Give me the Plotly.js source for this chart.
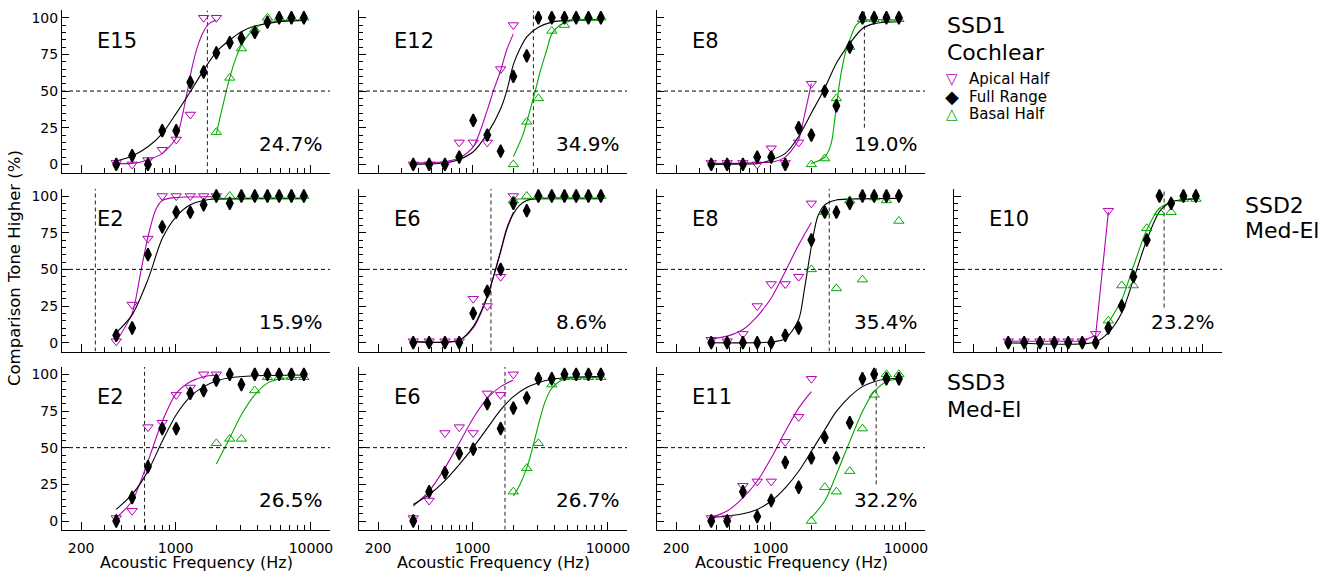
<!DOCTYPE html>
<html><head><meta charset="utf-8">
<script src="https://cdn.plot.ly/plotly-3.0.1.min.js"></script>
<style>html,body{margin:0;padding:0;background:#fff}#chart{width:1331px;height:573px}</style>
</head><body><div id="chart"></div>
<script>
// ---------------- DATA ----------------
const FREQ_HZ = [364, 477, 624, 796, 1010, 1283, 1611, 2000, 2512, 3062, 3846, 4772, 5823, 7178, 8872];
const X_TICKS = [200, 1000, 10000];
const X_TICK_TEXT = ['200', '1000', '10000'];
const X_MINOR = [300, 400, 500, 600, 700, 800, 900, 2000, 3000, 4000, 5000, 6000, 7000, 8000, 9000];
const Y_TICKS = [0, 25, 50, 75, 100];
const Y_MINOR = [5, 10, 15, 20, 30, 35, 40, 45, 55, 60, 65, 70, 80, 85, 90, 95];

const PANEL_NAMES = ['E15', 'E12', 'E8', 'E2', 'E6', 'E8', 'E10', 'E2', 'E6', 'E11'];
const PANEL_PCTS = ['24.7%', '34.9%', '19.0%', '15.9%', '8.6%', '35.4%', '23.2%', '26.5%', '26.7%', '32.2%'];
const VLINE_HZ = [1717, 2812, 4932, 255, 1366, 2711, 5166, 589, 1734, 6026];
const VLINE_LOW = [-6, -6, 25, -6, -6, -6, 24, -6, -6, 25];
const GROUP_LABELS = [['SSD1', 'Cochlear'], ['SSD2', 'Med-El'], ['SSD3', 'Med-El']];
const SERIES_NAMES = ['Apical Half', 'Full Range', 'Basal Half'];
const SERIES_GLYPHS = ['\u25BD', '\u25C6', '\u25B3'];

const N = null;
// points (aligned with FREQ_HZ)
const FULL = [
  [0, 6, 0, 23, 23, 56, 63, 76, 83, 86, 90, 97, 100, 100, 100],
  [0, 0, 0, 5, 30, 20, 9, 60, 74, 100, 100, 100, 100, 100, 100],
  [0, 0, 0, 5, 5, 0, 25, 20, 50, 40, 80, 100, 100, 100, 100],
  [5, 10, 60, 79, 89, 89, 94, 100, 95, 100, 100, 100, 100, 100, 100],
  [0, 0, 0, 0, 20, 35, 50, 95, 90, 100, 100, 100, 100, 100, 100],
  [0, 0, 0, 0, 0, 5, 10, 70, 89, 89, 95, 100, 100, 100, 100],
  [0, 0, 0, 0, 0, 0, 0, 10, 25, 45, 70, 100, 95, 100, 100],
  [0, 16, 37, 63, 63, 87, 89, 96, 100, 93, 100, 100, 100, 100, 100],
  [0, 20, 33, 46, 49, 80, 63, 77, 84, 97, 97, 100, 100, 100, 100],
  [0, 0, 20, 3, 14, 40, 23, 43, 57, 43, 67, 97, 100, 97, 97]
];
const APICAL = [
  [1, 0, 3, 10, 17, 34, 100, 100, N, N, N, N, N, N, N],
  [0, 0, 0, 15, 15, 15, 65, 95, N, N, N, N, N, N, N],
  [1, 1, 1, 0, 11, 1, 15, 55, N, N, N, N, N, N, N],
  [1, 26, 71, 100, 100, 100, 100, 100, N, N, N, N, N, N, N],
  [1, 1, 1, 1, 30, 25, 45, 100, N, N, N, N, N, N, N],
  [2, 1, 6, 25, 40, 40, 45, 95, N, N, N, N, N, N, N],
  [1, 1, 1, 1, 1, 1, 6, 90, N, N, N, N, N, N, N],
  [2, 7, 64, 67, 86, 91, 100, 100, N, N, N, N, N, N, N],
  [2, 14, 60, 64, 60, 87, 86, 100, N, N, N, N, N, N, N],
  [2, 2, 24, 27, 27, 54, 71, 97, N, N, N, N, N, N, N]
];
const BASAL = [
  [N, N, N, N, N, N, N, 22, 59, 79, 92, 100, 100, 100, 100],
  [N, N, N, N, N, N, N, 0, 29, 45, 91, 95, 100, 100, 100],
  [N, N, N, N, N, N, N, 0, 4, 45, 80, 99, 99, 99, 99],
  [N, N, N, N, N, N, N, 100, 100, 100, 100, 100, 100, 100, 100],
  [N, N, N, N, N, N, N, 97, 100, 100, 100, 100, 100, 100, 100],
  [N, N, N, N, N, N, N, 50, 89, 37, 97, 43, 99, 97, 83],
  [N, N, N, N, N, N, N, 15, 39, 39, 78, 89, 89, 98, 98],
  [N, N, N, N, N, N, N, 53, 56, 56, 89, 98, 98, 98, 98],
  [N, N, N, N, N, N, N, 20, 36, 53, 93, 98, 98, 98, 98],
  [N, N, N, N, N, N, N, 0, 23, 20, 34, 63, 86, 100, 100]
];

// fitted curves: [Hz, %] pairs
const FIT_APICAL = [
  [[364,0.7],[477,0.7],[624,3],[796,7.5],[1010,18],[1120,33],[1220,50],[1329,67],[1447,80],[1594,90],[1766,96],[2000,98.5]],
  [[364,1],[477,1.3],[624,1.8],[796,4.5],[1010,12],[1283,37],[1421,50],[1611,64],[1785,78],[2000,89]],
  [[364,0.7],[477,0.7],[624,0.7],[796,1.3],[1010,1.5],[1283,5],[1611,17],[1774,33],[2000,55]],
  [[364,1],[477,20],[550,47.5],[624,72],[711,90.5],[796,97],[1010,99],[2000,99.5]],
  [[364,0.7],[796,1.5],[1010,10],[1283,31],[1480,50.5],[1611,63],[1785,78],[2000,89]],
  [[364,2.7],[477,4.5],[624,9],[796,18],[1010,30.5],[1283,48.6],[1611,66.7],[2000,82]],
  [[364,1],[1283,1],[1611,5],[2000,89]],
  [[364,2.3],[477,13.6],[624,40.7],[731,58.8],[796,67.9],[1010,87],[1283,95],[1611,98.4],[2000,99.5]],
  [[364,10.2],[477,20.4],[624,36.2],[796,53.2],[1010,70.1],[1283,83.7],[1611,91.6],[2000,96.2]],
  [[364,2.3],[477,6.8],[624,15.8],[796,27.1],[1010,43],[1283,61],[1611,77],[2000,88.2]]
];
const FIT_FULL = [
  [[364,2.3],[477,5.7],[624,12],[796,21],[1010,34.8],[1283,49.5],[1611,64.3],[2000,76.8],[2512,84.8],[3062,90.5],[3846,94.3],[4772,96],[5823,97.3],[7178,98],[8872,98.4]],
  [[364,0.2],[477,0.3],[624,1],[796,3.4],[1010,8.6],[1283,21],[1611,38],[1785,50],[2000,68],[2240,79],[2512,87],[3062,93.5],[3846,97],[4772,98.2],[5823,98.5],[7178,98.6],[8872,98.7]],
  [[364,0],[477,0.1],[624,0.3],[796,0.5],[1010,3],[1283,7.5],[1611,19],[2000,35],[2512,52],[3062,69],[3846,82.5],[4772,92.7],[5823,96],[7178,97],[8872,97.3]],
  [[364,6.8],[477,19],[624,43],[796,71],[1010,86],[1283,94],[1611,97],[2000,98],[8872,98.4]],
  [[364,0.7],[796,1.8],[1010,11],[1283,31.7],[1480,50],[1611,62],[1785,77],[2000,88],[2240,94],[2512,97],[3062,98.4],[8872,98.4]],
  [[364,0],[1010,0.5],[1283,2.7],[1611,15.8],[1774,36],[2000,65.6],[2229,86],[2512,94],[3062,97.3],[3846,98],[8872,98.4]],
  [[364,0],[1611,0.5],[2000,6.8],[2512,20.4],[3062,43],[3846,70],[4772,89.4],[5823,96],[7178,97.5],[8872,98.4]],
  [[364,7.9],[477,18.1],[624,34],[796,54.3],[1010,72.4],[1283,84.8],[1611,91.6],[2000,95.5],[2512,97.7],[3846,99],[8872,99.5]],
  [[364,11.3],[477,18.1],[624,27.6],[796,38.5],[1010,50.2],[1283,63.3],[1611,75.8],[2000,84.8],[2512,91],[3062,94.3],[3846,96.6],[4772,97.7],[5823,98.2],[7178,98.4],[8872,98.4]],
  [[364,2.3],[477,3.4],[624,5],[796,7.9],[1010,13.6],[1283,22.6],[1611,33.9],[2000,47.5],[2512,62.2],[3062,74.7],[3846,84.8],[4772,91.6],[5823,95],[7178,96.8],[8872,97.3]]
];
const FIT_BASAL = [
  [[2000,21],[2217,39],[2484,57.5],[2783,72.3],[3117,82.5],[3846,92.7],[4772,96.6],[5823,97.7],[8872,98]],
  [[2000,5.2],[2371,21],[2657,37],[2894,49.5],[3151,63],[3531,78],[3846,89],[4433,95],[5257,97.7],[8872,98.4]],
  [[2000,0.7],[2512,5],[2797,14],[3062,40],[3316,62],[3613,78],[3846,85],[4284,95],[4772,98],[8872,98.4]],
  [[2000,98],[8872,98]],
  [[2000,98],[8872,98]],
  null,
  [[2000,13.6],[2512,29.4],[3062,52],[3846,77],[4772,91.6],[5823,96],[7178,97.5],[8872,98]],
  [[2000,38.9],[2512,56.6],[3062,72.4],[3846,86],[4772,94],[5823,96.8],[7178,97.7],[8872,98]],
  [[2000,17],[2240,24.9],[2512,36.2],[2734,47.5],[3062,65.6],[3432,81.4],[3846,90.5],[4433,95.5],[5257,97.3],[8872,97.7]],
  [[2000,2.3],[2512,13.6],[3062,31.7],[3846,54.3],[4772,74.7],[5823,88.2],[7178,95],[8872,96.8]]
];

// ---------------- LAYOUT / STYLE ----------------
const W = 1331, H = 573;
const FONT = 'DejaVu Sans, Verdana, sans-serif';
const MAG = '#b400b4', GRN = '#00aa00', BLK = '#000000';
const SERIES_COLORS = [MAG, BLK, GRN];
const GLYPH_SIZES = [15, 18, 15];
const COLS_PX = [[62, 330], [359, 627], [657, 925], [954, 1222]];
const ROWS_PX = [[10.4, 173.2], [188.7, 351.5], [367, 529.8]];
const POS = [[0,0],[0,1],[0,2],[1,0],[1,1],[1,2],[1,3],[2,0],[2,1],[2,2]];
const X_RANGE = [2.16, 4.141];
const Y_RANGE = [-6, 105];

const traces = [];
const layout = {
  width: W, height: H,
  margin: {l: 0, r: 0, t: 0, b: 0},
  paper_bgcolor: '#fff', plot_bgcolor: '#fff',
  font: {family: FONT, color: '#000', size: 14},
  showlegend: false,
  annotations: [], shapes: []
};

function pairsX(p) { return p.map(d => d[0]); }
function pairsY(p) { return p.map(d => d[1]); }

POS.forEach((rc, i) => {
  const [r, c] = rc;
  const sfx = i === 0 ? '' : String(i + 1);
  const xa = 'x' + sfx, ya = 'y' + sfx;
  const bottom = r === 2, left = c === 0;
  layout['xaxis' + sfx] = {
    type: 'log', range: X_RANGE, anchor: ya,
    domain: [COLS_PX[c][0] / W, COLS_PX[c][1] / W],
    showline: true, linecolor: '#000', linewidth: 1, mirror: false,
    showgrid: false, zeroline: false,
    ticks: 'inside', ticklen: 8, tickwidth: 1, tickcolor: '#000',
    tickmode: 'array', tickvals: X_TICKS, ticktext: X_TICK_TEXT,
    showticklabels: bottom, ticklabelstandoff: 5,
    tickfont: {family: FONT, size: 14, color: '#000'},
    minor: {tickmode: 'array', tickvals: X_MINOR, ticks: 'inside', ticklen: 5, tickwidth: 1, tickcolor: '#000', showgrid: false}
  };
  layout['yaxis' + sfx] = {
    range: Y_RANGE, anchor: xa,
    domain: [1 - ROWS_PX[r][1] / H, 1 - ROWS_PX[r][0] / H],
    showline: true, linecolor: '#000', linewidth: 1, mirror: false,
    showgrid: false, zeroline: false,
    ticks: 'inside', ticklen: 7, tickwidth: 1, tickcolor: '#000',
    tickmode: 'array', tickvals: Y_TICKS,
    showticklabels: left,
    tickfont: {family: FONT, size: 14, color: '#000'},
    minor: {tickmode: 'array', tickvals: Y_MINOR, ticks: 'inside', ticklen: 4, tickwidth: 1, tickcolor: '#000', showgrid: false}
  };
  // 50% dashed line
  layout.shapes.push({type: 'line', xref: xa + ' domain', x0: 0, x1: 1, yref: ya, y0: 50, y1: 50,
    line: {color: '#000', width: 1, dash: '4px,3px'}});
  // vertical dashed line
  traces.push({x: [VLINE_HZ[i], VLINE_HZ[i]], y: [VLINE_LOW[i], 105], xaxis: xa, yaxis: ya,
    mode: 'lines', line: {color: '#222', width: 1, dash: '4px,3px'}, hoverinfo: 'skip'});
  // fits
  const fits = [[FIT_BASAL[i], GRN], [FIT_APICAL[i], MAG], [FIT_FULL[i], BLK]];
  fits.forEach(([f, col]) => {
    if (!f) return;
    traces.push({x: pairsX(f), y: pairsY(f), xaxis: xa, yaxis: ya, mode: 'lines',
      line: {color: col, width: 1.1, shape: (i === 6 && col === MAG) ? 'linear' : 'spline', smoothing: 0.8},
      hoverinfo: 'skip'});
  });
  // markers
  traces.push({x: FREQ_HZ, y: BASAL[i], xaxis: xa, yaxis: ya, mode: 'markers', name: SERIES_NAMES[2],
    marker: {symbol: 'triangle-up-open', size: 9, color: GRN, line: {color: GRN, width: 1}}});
  traces.push({x: FREQ_HZ, y: APICAL[i], xaxis: xa, yaxis: ya, mode: 'markers', name: SERIES_NAMES[0],
    marker: {symbol: 'triangle-down-open', size: 9, color: MAG, line: {color: MAG, width: 1}}});
  traces.push({x: FREQ_HZ, y: FULL[i], xaxis: xa, yaxis: ya, mode: 'markers', name: SERIES_NAMES[1],
    marker: {symbol: 'diamond-tall', size: 9, color: BLK, line: {color: BLK, width: 1.6}}});
  // labels
  layout.annotations.push({xref: xa + ' domain', yref: ya + ' domain', x: 0.123, y: 0.815,
    xanchor: 'left', yanchor: 'middle', text: PANEL_NAMES[i], showarrow: false,
    font: {family: FONT, size: 21, color: '#000'}});
  layout.annotations.push({xref: xa + ' domain', yref: ya + ' domain', x: 0.728, y: 0.18,
    xanchor: 'left', yanchor: 'middle', text: PANEL_PCTS[i], showarrow: false,
    font: {family: FONT, size: 20, color: '#000'}});
  if (bottom) {
    layout.annotations.push({xref: xa + ' domain', yref: 'paper', x: 0.5, y: 1 - 562 / H,
      xanchor: 'center', yanchor: 'middle', text: 'Acoustic Frequency (Hz)', showarrow: false,
      font: {family: FONT, size: 16, color: '#000'}});
  }
});

// y title
layout.annotations.push({xref: 'paper', yref: 'paper', x: 14 / W, y: 1 - 268 / H, textangle: -90,
  xanchor: 'center', yanchor: 'middle', text: 'Comparison Tone Higher (%)', showarrow: false,
  font: {family: FONT, size: 16.5, color: '#000'}});

// group labels
const GROUP_POS = [[945, 25, 52], [1243, 205, 231], [945, 382, 409]];
GROUP_LABELS.forEach((g, j) => {
  const [gx, gy1, gy2] = GROUP_POS[j];
  [[g[0], gy1], [g[1], gy2]].forEach(([t, yy]) => {
    layout.annotations.push({xref: 'paper', yref: 'paper', x: gx / W, y: 1 - yy / H,
      xanchor: 'left', yanchor: 'middle', text: t, showarrow: false,
      font: {family: FONT, size: 22, color: '#000'}});
  });
});

// key (symbols + names)
const KEY_Y = [79, 97, 114.5];
SERIES_NAMES.forEach((nm, j) => {
  layout.annotations.push({xref: 'paper', yref: 'paper', x: 952 / W, y: 1 - KEY_Y[j] / H,
    xanchor: 'center', yanchor: 'middle', text: SERIES_GLYPHS[j], showarrow: false,
    font: {family: FONT, size: GLYPH_SIZES[j], color: SERIES_COLORS[j]}});
  layout.annotations.push({xref: 'paper', yref: 'paper', x: 967 / W, y: 1 - KEY_Y[j] / H,
    xanchor: 'left', yanchor: 'middle', text: nm, showarrow: false,
    font: {family: FONT, size: 15, color: '#000'}});
});

Plotly.newPlot('chart', traces, layout, {displayModeBar: false, staticPlot: true});
</script></body></html>
